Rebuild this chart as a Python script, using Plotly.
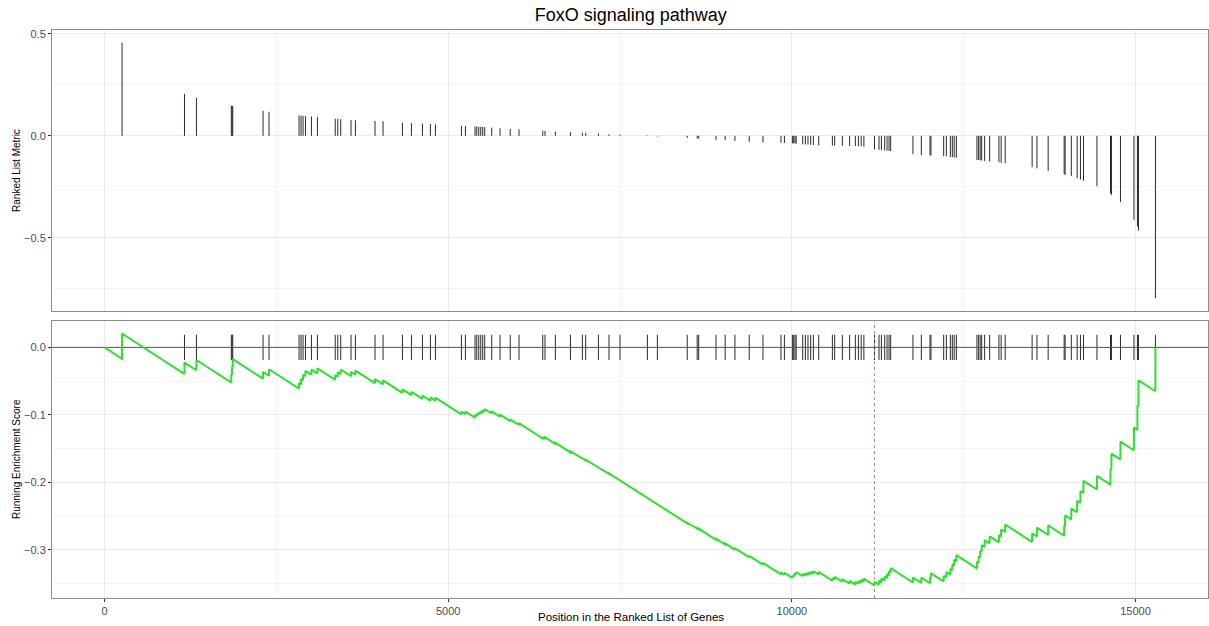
import numpy as np
import plotly.graph_objects as go

# ---- data -----------------------------------------------------------------
title_text = "FoxO signaling pathway"
n_genes = 15290  # length of the ranked gene list

# rank positions of the pathway genes in the ranked list
hit_positions = [
    256, 1164, 1338, 1845, 1856, 1866, 2307, 2394,
    2831, 2860, 2889, 2924, 3011, 3098, 3357, 3394, 3437, 3587, 3651,
    3936, 4053, 4335, 4466, 4626, 4742, 4815,
    5193, 5251, 5391, 5416, 5445, 5474, 5503, 5532, 5634, 5755, 5903, 6031,
    6376, 6409, 6560, 6779, 6953, 7001, 7186,
    7340, 7500, 7899,
    8044, 8478, 8623, 8645, 8897, 9030, 9172, 9380, 9580,
    9842, 9892, 10008, 10027, 10046, 10063,
    10158, 10197, 10235, 10274, 10313, 10391,
    10590, 10623, 10735, 10841, 10924, 10968, 11009, 11048,
    11203, 11268, 11303, 11351, 11385, 11414, 11438,
    11762, 11884,
    12010, 12024, 12209, 12248, 12306, 12335, 12362, 12393, 12693, 12718,
    12740, 12762, 12805, 12878, 13013, 13045, 13104, 13496, 13566, 13729,
    13962, 13976, 14066, 14151, 14199, 14243, 14439,
    14636, 14650,
    14781, 14977, 15028, 15043, 15290,
]

# ranked list metric of each pathway gene
hit_metric = [
    0.457, 0.206, 0.186, 0.148, 0.147, 0.146, 0.123, 0.118,
    0.100, 0.099, 0.098, 0.097, 0.094, 0.093, 0.084, 0.083, 0.082, 0.077, 0.076,
    0.073, 0.071, 0.064, 0.062, 0.060, 0.058, 0.056,
    0.049, 0.048, 0.046, 0.045, 0.045, 0.044, 0.044, 0.043, 0.040, 0.037,
    0.034, 0.032, 0.025, 0.024, 0.021, 0.018, 0.015, 0.014, 0.012,
    0.008, 0.006, 0.002,
    -0.003, -0.010, -0.013, -0.014, -0.020, -0.022, -0.025, -0.029, -0.033,
    -0.034, -0.035, -0.037, -0.037, -0.038, -0.038,
    -0.041, -0.042, -0.043, -0.044, -0.045, -0.047,
    -0.048, -0.049, -0.049, -0.050, -0.050, -0.051, -0.052, -0.053,
    -0.067, -0.069, -0.071, -0.072, -0.073, -0.074, -0.075,
    -0.090, -0.095,
    -0.096, -0.097, -0.099, -0.100, -0.104, -0.105, -0.106, -0.108, -0.118,
    -0.119, -0.120, -0.121, -0.123, -0.126, -0.130, -0.132, -0.134, -0.154,
    -0.160, -0.172,
    -0.189, -0.191, -0.198, -0.208, -0.215, -0.220, -0.247,
    -0.283, -0.290,
    -0.325, -0.412, -0.445, -0.466, -0.797,
]
assert len(hit_positions) == len(hit_metric)

x_tick_values = [0, 5000, 10000, 15000]
x_tick_labels = ["0", "5000", "10000", "15000"]
metric_tick_values = [-0.5, 0.0, 0.5]
metric_tick_labels = ["\u22120.5", "0.0", "0.5"]
es_tick_values = [-0.3, -0.2, -0.1, 0.0]
es_tick_labels = ["\u22120.3", "\u22120.2", "\u22120.1", "0.0"]

# ---- running enrichment score (weighted Kolmogorov-Smirnov walk) -------------
pos = np.asarray(hit_positions)
met = np.asarray(hit_metric)
in_set = np.zeros(n_genes, dtype=bool)
in_set[pos - 1] = True
weights = np.zeros(n_genes)
weights[pos - 1] = np.abs(met)
p_hit = np.cumsum(weights) / weights.sum()
p_miss = np.cumsum(~in_set) / (n_genes - len(pos))
running_es = p_hit - p_miss
ranks = np.arange(1, n_genes + 1)
peak_rank = ranks[np.argmax(np.abs(running_es))]

# ---- scales (5% padding like ggplot) ------------------------------------------
x_span = n_genes - 1
x_range = [1 - 0.05 * x_span, n_genes + 0.05 * x_span]
m_lo, m_hi = min(met.min(), 0), max(met.max(), 0)
m_pad = 0.05 * (m_hi - m_lo)
metric_range = [m_lo - m_pad, m_hi + m_pad]
es_lo, es_hi = running_es.min(), running_es.max()
es_span = es_hi - es_lo
es_range = [es_lo - 0.05 * es_span, es_hi + 0.05 * es_span]
tick_half = es_span / 20

# ---- figure -----------------------------------------------------------------
W, H = 1209, 626
FONT = "Liberation Sans, Arial, Helvetica, sans-serif"
GRID = "#ebebeb"
GRID_MINOR = "#f4f4f4"
BORDER = "#8c8c8c"

fig = go.Figure()

# ranked list metric of the pathway genes
seg_x, seg_y = [], []
for p, m in zip(hit_positions, hit_metric):
    seg_x += [p, p, None]
    seg_y += [0, m, None]
fig.add_trace(go.Scatter(x=seg_x, y=seg_y, mode="lines",
                         line=dict(color="#2b2b2b", width=1),
                         xaxis="x", yaxis="y", hoverinfo="skip", showlegend=False))

# gene set hits along the enrichment panel
tick_x, tick_y = [], []
for p in hit_positions:
    tick_x += [p, p, None]
    tick_y += [-tick_half, tick_half, None]
fig.add_trace(go.Scatter(x=tick_x, y=tick_y, mode="lines",
                         line=dict(color="#2b2b2b", width=1),
                         xaxis="x2", yaxis="y2", hoverinfo="skip", showlegend=False))

# zero reference line
fig.add_trace(go.Scatter(x=x_range, y=[0, 0], mode="lines",
                         line=dict(color="#555555", width=1),
                         xaxis="x2", yaxis="y2", hoverinfo="skip", showlegend=False))

# peak position marker
fig.add_trace(go.Scatter(x=[peak_rank, peak_rank], y=es_range, mode="lines",
                         line=dict(color="#c27a88", width=1, dash="3px,3px"),
                         xaxis="x2", yaxis="y2", hoverinfo="skip", showlegend=False))

# running enrichment score
fig.add_trace(go.Scatter(x=ranks, y=running_es, mode="lines",
                         line=dict(color="#2ee02e", width=2),
                         xaxis="x2", yaxis="y2", hoverinfo="skip", showlegend=False))

x_dom = [52 / W, 1208 / W]
top_dom = [(H - 310) / H, (H - 28) / H]
bot_dom = [(H - 598) / H, (H - 320) / H]

axis_common = dict(
    showline=True, mirror=True, linecolor=BORDER, linewidth=1,
    zeroline=False, showgrid=True, gridcolor=GRID, gridwidth=1,
    tickfont=dict(family=FONT, size=11, color="#4d4d4d"),
    tickcolor="#333333", ticklen=3, tickwidth=1,
)

fig.update_layout(
    width=W, height=H,
    margin=dict(l=0, r=0, t=0, b=0),
    paper_bgcolor="white", plot_bgcolor="white",
    showlegend=False,
    font=dict(family=FONT),
    xaxis=dict(axis_common, domain=x_dom, anchor="y", range=x_range,
               tickvals=x_tick_values, showticklabels=False, ticks="",
               minor=dict(tickvals=[2500, 7500, 12500], showgrid=True,
                          gridcolor=GRID_MINOR, ticks="")),
    yaxis=dict(axis_common, domain=top_dom, anchor="x", range=metric_range,
               tickvals=metric_tick_values, ticktext=metric_tick_labels,
               ticks="outside",
               minor=dict(tickvals=[-0.75, -0.25, 0.25], showgrid=True,
                          gridcolor=GRID_MINOR, ticks="")),
    xaxis2=dict(axis_common, domain=x_dom, anchor="y2", range=x_range,
                tickvals=x_tick_values, ticktext=x_tick_labels, ticks="outside",
                minor=dict(tickvals=[2500, 7500, 12500], showgrid=True,
                           gridcolor=GRID_MINOR, ticks="")),
    yaxis2=dict(axis_common, domain=bot_dom, anchor="x2", range=es_range,
                tickvals=es_tick_values, ticktext=es_tick_labels,
                ticks="outside",
                minor=dict(tickvals=[-0.35, -0.25, -0.15, -0.05], showgrid=True,
                           gridcolor=GRID_MINOR, ticks="")),
    title=dict(text=title_text, x=630.7 / W, xanchor="center",
               y=1 - 14.5 / H, yanchor="middle",
               font=dict(family=FONT, size=18, color="black")),
    annotations=[
        dict(text="Ranked List Metric", x=16.5 / W, y=(H - 169) / H,
             xref="paper", yref="paper", textangle=-90, showarrow=False,
             xanchor="center", yanchor="middle",
             font=dict(family=FONT, size=10, color="black")),
        dict(text="Running Enrichment Score", x=16.5 / W, y=(H - 459) / H,
             xref="paper", yref="paper", textangle=-90, showarrow=False,
             xanchor="center", yanchor="middle",
             font=dict(family=FONT, size=10, color="black")),
        dict(text="Position in the Ranked List of Genes", x=630.5 / W,
             y=(H - 617) / H, xref="paper", yref="paper", showarrow=False,
             xanchor="center", yanchor="middle",
             font=dict(family=FONT, size=11.5, color="black")),
    ],
)

fig.write_html("out.html")
